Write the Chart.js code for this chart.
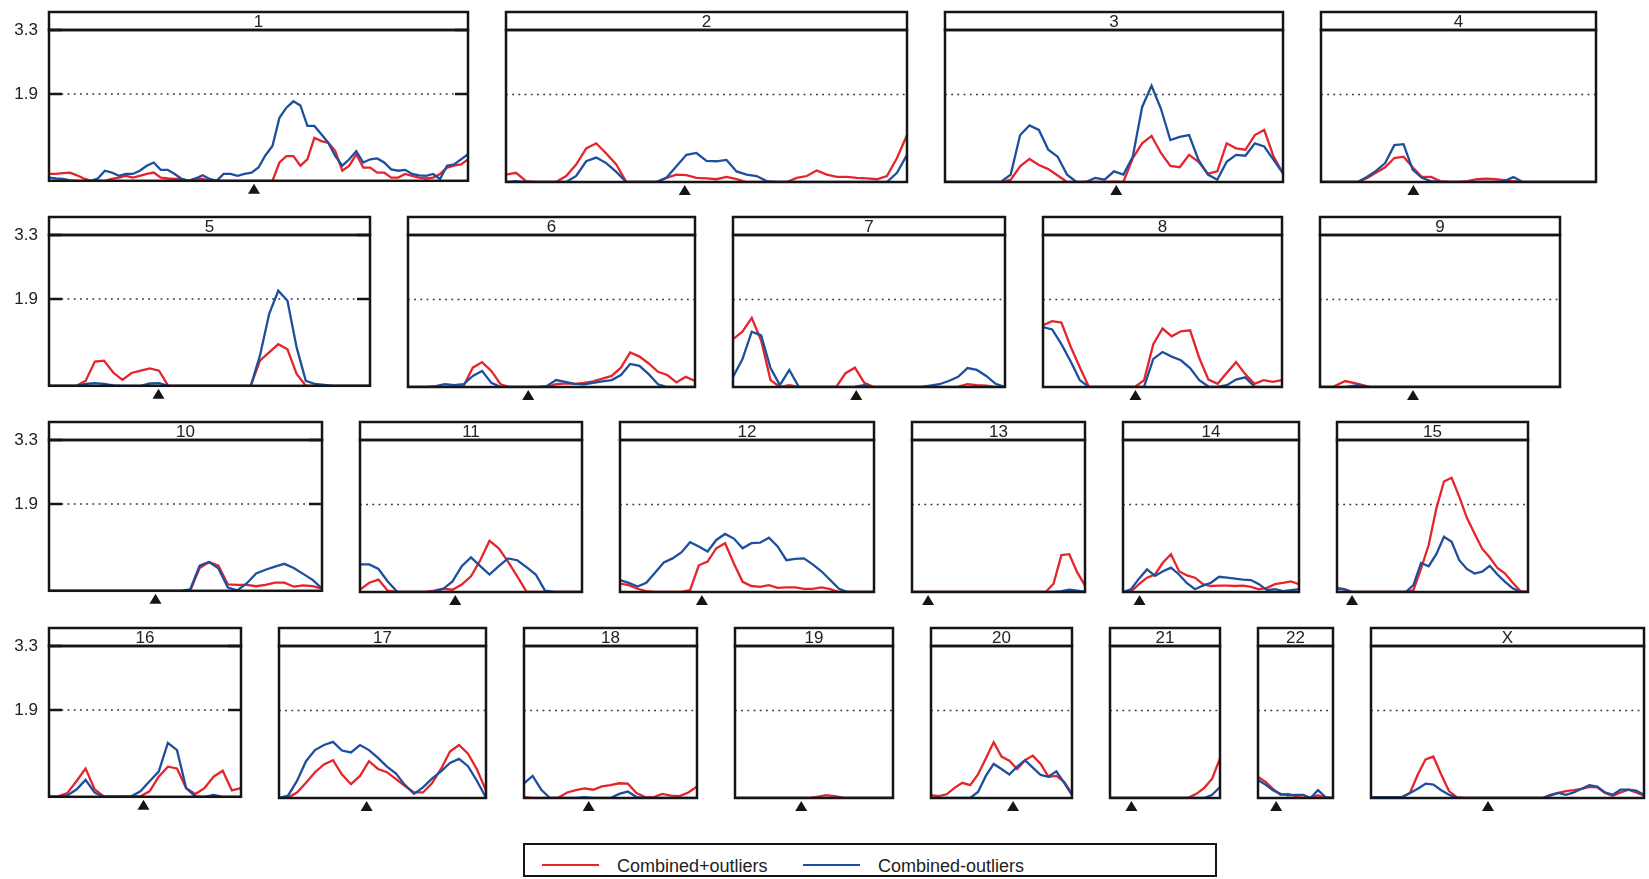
<!DOCTYPE html>
<html>
<head>
<meta charset="utf-8">
<script src="https://cdn.jsdelivr.net/npm/chart.js@4.4.1/dist/chart.umd.min.js"></script>
<style>
  html, body { margin: 0; padding: 0; background: #ffffff; }
  body { width: 1649px; height: 879px; position: relative; overflow: hidden;
         font-family: "Liberation Sans", Arial, sans-serif; }
  canvas { position: absolute; }
  #legend { position: absolute; left: 523px; top: 843px; width: 690px; height: 30px;
            border: 2px solid #151515; }
  #legend .swatch { position: absolute; top: 19px; height: 2px; width: 57px; }
  #legend .label { position: absolute; top: 11px; font-size: 18px; color: #222; line-height: 20px; }
</style>
</head>
<body>
<div id="legend"></div>
<script>
// ---- data -------------------------------------------------------------
const CHROMOSOMES = ['1','2','3','4','5','6','7','8','9','10','11','12',
                     '13','14','15','16','17','18','19','20','21','22','X'];
// chromosome lengths (cM) and centromere positions (cM)
const LENGTH_CM = [279, 267, 225, 183, 214, 191, 181, 159, 160, 182, 148, 169,
                   115, 117, 127, 128, 138, 115, 105, 94, 73, 50, 182];
const CENTROMERE_CM = [136.5, 119, 114, 61.5, 73, 80, 82, 61.5, 62, 71, 63.5, 54.5,
                       10.7, 11, 10, 63, 58.4, 43, 44, 54.7, 14.2, 12.1, 78];
const THRESHOLD = 1.9;
const Y_MAX = 3.3;
const Y_TICKS = [1.9, 3.3];
const SERIES_NAMES = ['Combined+outliers', 'Combined-outliers'];

// LOD profiles, sampled evenly from pter (0 cM) to qter (chromosome length)
const PLUS_OUTLIERS = [
  [0.15,0.15,0.17,0.18,0.12,0.05,0,0,0,0.04,0.07,0.11,0.07,0.11,0.15,0.18,0.07,0.05,0.04,0.04,0,0.05,0.04,
   0,0,0,0,0,0,0,0,0,0,
   0.40,0.54,0.54,0.33,0.47,0.94,0.87,0.83,0.65,0.22,0.33,0.58,0.29,0.29,0.18,0.18,0.07,0.07,0.15,0.11,0.07,0.05,0.07,0.15,0.29,0.33,0.36,0.47],
  [0.16,0.20,0.02,0,0,0,0.13,0.38,0.73,0.84,0.62,0.38,0,0,0,0,0.09,0.16,0.15,0.09,0.08,0.06,0.11,0.06,0,0,0,0,0,0.09,0.13,0.25,0.16,0.11,0.11,0.09,0.08,0.06,0.13,0.52,1.02],
  [0,0,0,0,0,0,0,0.05,0.34,0.50,0.37,0.28,0.14,0,0,0,0,0,0.01,0,0.52,0.84,1.00,0.63,0.35,0.32,0.59,0.44,0.18,0.23,0.84,0.73,0.70,1.02,1.13,0.55,0.19],
  [0,0,0,0,0,0.08,0.20,0.32,0.52,0.55,0.32,0.11,0.11,0.02,0,0,0.02,0.06,0.07,0.06,0.04,0.02,0,0,0,0,0,0,0,0,0],
  [0,0,0,0,0.11,0.53,0.55,0.29,0.13,0.28,0.33,0.38,0.33,0,0,0,0,0,0,0,0,0,0,0.55,0.73,0.91,0.80,0.26,0,0,0,0,0,0,0,0],
  [0,0,0,0,0,0,0.02,0.42,0.54,0.35,0.06,0,0,0,0,0,0.06,0.08,0.07,0.09,0.12,0.18,0.24,0.42,0.75,0.66,0.51,0.33,0.26,0.10,0.22,0.13],
  [1.04,1.20,1.50,1.01,0.15,0,0.04,0,0,0,0,0,0.30,0.42,0.09,0,0,0,0,0,0,0,0,0,0.01,0.06,0.04,0.03,0,0],
  [1.34,1.43,1.40,0.88,0.43,0,0,0,0,0,0,0.15,0.93,1.27,1.10,1.21,1.23,0.63,0.16,0.07,0.31,0.54,0.28,0.07,0.15,0.11,0.15],
  [0,0,0.13,0.07,0,0,0,0,0,0,0,0,0,0,0,0,0,0,0,0],
  [0,0,0,0,0,0,0,0,0,0,0,0,0,0,0,0,0.50,0.63,0.55,0.14,0.13,0.13,0.10,0.13,0.18,0.18,0.09,0.12,0.10,0.05],
  [0.05,0.20,0.27,0.03,0,0,0,0,0.03,0.07,0.05,0.16,0.34,0.69,1.11,0.95,0.66,0.34,0.01,0,0,0,0,0,0],
  [0.18,0.15,0.07,0.02,0,0,0,0,0.04,0.58,0.66,0.95,1.06,0.62,0.22,0.13,0.11,0.15,0.09,0.10,0.10,0.07,0.07,0.10,0.06,0,0,0,0,0],
  [0,0,0,0,0,0,0,0,0,0,0,0,0,0,0,0,0,0,0.18,0.80,0.82,0.43,0.14],
  [0,0.01,0.17,0.31,0.38,0.64,0.82,0.45,0.36,0.31,0.17,0.13,0.14,0.14,0.13,0.14,0.11,0.06,0.09,0.17,0.20,0.23,0.17],
  [0.09,0.06,0,0,0,0,0,0,0,0,0.04,0.51,1.02,1.81,2.40,2.48,2.07,1.61,1.27,0.94,0.75,0.52,0.40,0.20,0.02,0],
  [0.01,0.01,0.08,0.34,0.62,0.16,0.01,0.01,0.01,0.01,0.01,0.12,0.44,0.66,0.62,0.19,0.06,0.19,0.44,0.57,0.14,0.19],
  [0,0.01,0.12,0.33,0.56,0.73,0.82,0.51,0.30,0.48,0.80,0.63,0.56,0.41,0.26,0.12,0.12,0.32,0.63,1.01,1.15,0.96,0.62,0.16],
  [0.02,0,0,0,0.01,0.12,0.17,0.21,0.18,0.25,0.28,0.32,0.31,0.11,0.02,0.02,0.09,0.05,0.04,0.12,0.25],
  [0,0,0,0,0,0,0,0,0,0,0.03,0.06,0.04,0.01,0,0,0,0,0,0],
  [0.06,0.04,0.08,0.22,0.33,0.28,0.51,0.86,1.21,0.90,0.81,0.63,0.82,0.92,0.74,0.46,0.48,0.35,0.09],
  [0,0,0,0,0,0,0,0,0,0,0.01,0.09,0.22,0.42,0.86],
  [0.46,0.35,0.20,0.07,0.09,0.04,0.06,0,0.06,0,0],
  [0.02,0.02,0.02,0.02,0.02,0.11,0.51,0.84,0.90,0.51,0.15,0.02,0,0,0,0,0,0,0,0,0,0,0,0.05,0.11,0.15,0.17,0.20,0.24,0.23,0.11,0.05,0.12,0.18,0.12,0.05]
];
const MINUS_OUTLIERS = [
  [0.07,0.05,0.04,0.01,0,0,0,0.05,0.22,0.18,0.11,0.15,0.15,0.22,0.33,0.40,0.24,0.24,0.15,0.04,0,0.05,0.12,0.04,0,0.15,0.15,0.11,0.15,0.18,0.29,0.56,0.76,1.38,1.60,1.74,1.65,1.20,1.20,1.02,0.83,0.54,0.33,0.47,0.65,0.40,0.47,0.49,0.40,0.25,0.22,0.24,0.15,0.12,0.11,0.15,0.04,0.33,0.36,0.47,0.58],
  [0,0.02,0,0,0,0,0,0.13,0.45,0.53,0.41,0.22,0,0,0,0,0.09,0.34,0.59,0.63,0.46,0.45,0.48,0.23,0.16,0.13,0.02,0,0,0,0,0,0,0,0,0,0,0,0,0.20,0.59],
  [0,0,0,0,0,0,0.01,0.16,1.02,1.23,1.13,0.70,0.55,0.16,0,0,0.09,0.05,0.23,0.16,0.55,1.63,2.09,1.59,0.91,0.98,1.02,0.48,0.16,0.05,0.44,0.59,0.57,0.84,0.77,0.48,0.19],
  [0,0,0,0,0,0.11,0.24,0.41,0.80,0.82,0.27,0.09,0.02,0,0,0,0,0,0,0,0.02,0.11,0,0,0,0,0,0,0,0,0],
  [0,0,0,0,0.04,0.06,0.04,0.01,0,0,0,0.05,0.06,0,0,0,0,0,0,0,0,0,0,0.66,1.57,2.08,1.86,0.84,0.11,0.04,0.02,0,0,0,0,0],
  [0,0,0,0.02,0.06,0.04,0.06,0.24,0.35,0.09,0,0,0,0,0,0.02,0.15,0.11,0.07,0.06,0.09,0.12,0.15,0.26,0.50,0.46,0.28,0.06,0,0,0,0],
  [0.22,0.60,1.20,1.12,0.41,0.04,0.37,0.01,0,0,0,0,0,0.01,0.04,0,0,0,0,0,0,0.03,0.06,0.13,0.22,0.41,0.37,0.24,0.07,0],
  [1.30,1.25,0.93,0.56,0.15,0,0,0,0,0,0,0.01,0.61,0.76,0.66,0.58,0.41,0.15,0.01,0,0.04,0.16,0.21,0.01,0,0,0],
  [0,0,0,0.04,0,0,0,0,0,0,0,0,0,0,0,0,0,0,0,0],
  [0,0,0,0,0,0,0,0,0,0,0,0,0,0,0,0.03,0.55,0.63,0.49,0.07,0.01,0.16,0.38,0.46,0.53,0.59,0.50,0.37,0.24,0.05],
  [0.60,0.60,0.50,0.23,0.01,0,0,0,0.01,0.07,0.23,0.56,0.75,0.56,0.38,0.56,0.73,0.69,0.54,0.38,0.03,0,0,0,0],
  [0.26,0.20,0.12,0.20,0.42,0.64,0.73,0.86,1.08,0.99,0.88,1.13,1.26,1.16,0.95,1.06,1.07,1.18,0.99,0.69,0.72,0.73,0.60,0.45,0.26,0.07,0,0,0,0],
  [0,0,0,0,0,0,0,0,0,0,0,0,0,0,0,0,0,0,0,0.02,0.05,0.03,0.01],
  [0,0.06,0.29,0.49,0.35,0.45,0.53,0.38,0.19,0.06,0.14,0.20,0.33,0.31,0.29,0.27,0.26,0.17,0.04,0.06,0.02,0.04,0.06],
  [0.07,0.05,0,0,0,0,0,0,0,0,0.15,0.63,0.56,0.82,1.20,1.09,0.69,0.50,0.40,0.44,0.57,0.38,0.22,0.08,0,0],
  [0,0,0.03,0.16,0.37,0.09,0,0,0,0.01,0.12,0.34,0.55,1.18,1.02,0.19,0.01,0,0.04,0,0,0],
  [0,0.05,0.37,0.80,1.04,1.15,1.22,1.03,0.99,1.15,1.04,0.87,0.68,0.53,0.28,0.09,0.23,0.42,0.58,0.76,0.85,0.69,0.37,0.01],
  [0.32,0.48,0.18,0,0,0,0,0.02,0,0,0,0.09,0.14,0.02,0,0,0,0,0,0,0],
  [0,0,0,0,0,0,0,0,0,0,0,0,0,0,0,0,0,0,0,0],
  [0,0,0,0,0,0,0.13,0.48,0.74,0.63,0.51,0.68,0.82,0.66,0.50,0.46,0.58,0.33,0.06],
  [0,0,0,0,0,0,0,0,0,0,0,0,0,0.07,0.24],
  [0.39,0.29,0.17,0.09,0.06,0.07,0.07,0,0.17,0.02,0],
  [0.02,0.02,0.02,0.02,0.02,0.11,0.20,0.31,0.29,0.17,0.07,0.01,0,0,0,0,0,0,0,0,0,0,0,0.07,0.11,0.07,0.12,0.20,0.28,0.25,0.12,0.07,0.18,0.18,0.16,0.07]
];

// ---- layout and style ------------------------------------------------
const ROWS = [[0,1,2,3], [4,5,6,7,8], [9,10,11,12,13,14], [15,16,17,18,19,20,21,22]];
const ROW_PLOT_TOP = [29.5, 235, 440, 646];
const PLOT_H = 152;
const TITLE_H = 18;
const PX_PER_CM = 1.5;
const GAP = 38;
const FIRST_LEFT = 49;
const PAD = 6;
const BOTTOM_SPACE = 20;
const RED = '#e5252b';
const BLUE = '#1e4f9f';
const INK = '#151515';
const FONT = '"Liberation Sans", Arial, sans-serif';

// frame, title strip, threshold ticks and centromere marker of one panel
const panelDecor = {
  id: 'panelDecor',
  afterDraw(chart, args, opts) {
    const { ctx, chartArea: a, scales } = chart;
    const w = a.right - a.left;
    ctx.save();
    ctx.strokeStyle = INK;
    ctx.lineWidth = 2.5;
    ctx.strokeRect(a.left, a.top, w, a.bottom - a.top);
    ctx.strokeRect(a.left, a.top - TITLE_H, w, TITLE_H);
    ctx.fillStyle = '#222';
    ctx.font = '17px ' + FONT;
    ctx.textAlign = 'center';
    ctx.textBaseline = 'middle';
    ctx.fillText(opts.title, (a.left + a.right) / 2, a.top - TITLE_H / 2 + 1);
    if (opts.axisTicks) {
      ctx.lineWidth = 2.7;
      ctx.beginPath();
      Y_TICKS.forEach(v => {
        const y = scales.y.getPixelForValue(v);
        ctx.moveTo(a.left, y); ctx.lineTo(a.left + 13, y);
        ctx.moveTo(a.right - 13, y); ctx.lineTo(a.right, y);
      });
      ctx.stroke();
    }
    const cx = scales.x.getPixelForValue(opts.centromere);
    ctx.fillStyle = INK;
    ctx.beginPath();
    ctx.moveTo(cx, a.bottom + 3);
    ctx.lineTo(cx + 6, a.bottom + 13);
    ctx.lineTo(cx - 6, a.bottom + 13);
    ctx.closePath();
    ctx.fill();
    ctx.restore();
  }
};

function profilePoints(values, len) {
  return values.map((v, i) => ({ x: i * len / (values.length - 1), y: v }));
}

function buildPanel(idx, plotLeft, plotTop, first) {
  const len = LENGTH_CM[idx];
  const plotW = Math.round(len * PX_PER_CM);
  const padL = first ? plotLeft : PAD;
  const canvas = document.createElement('canvas');
  const cw = padL + plotW + PAD;
  const ch = PAD + TITLE_H + PLOT_H + BOTTOM_SPACE;
  canvas.width = cw; canvas.height = ch;
  canvas.style.left = (plotLeft - padL) + 'px';
  canvas.style.top = (plotTop - TITLE_H - PAD) + 'px';
  canvas.style.width = cw + 'px'; canvas.style.height = ch + 'px';
  document.body.appendChild(canvas);

  new Chart(canvas, {
    type: 'line',
    data: {
      datasets: [
        { label: SERIES_NAMES[1], data: profilePoints(MINUS_OUTLIERS[idx], len),
          borderColor: BLUE, borderWidth: 2.3, pointRadius: 0, tension: 0, order: 0 },
        { label: SERIES_NAMES[0], data: profilePoints(PLUS_OUTLIERS[idx], len),
          borderColor: RED, borderWidth: 2.3, pointRadius: 0, tension: 0, order: 1 },
        { label: 'threshold', data: [{ x: 0, y: THRESHOLD }, { x: len, y: THRESHOLD }],
          borderColor: '#333333', borderWidth: 1.5, borderDash: [1.8, 4.4], pointRadius: 0, order: 2 }
      ]
    },
    options: {
      responsive: false,
      animation: false,
      devicePixelRatio: 1,
      events: [],
      layout: { padding: { top: PAD + TITLE_H, bottom: BOTTOM_SPACE, left: first ? 0 : PAD, right: PAD } },
      scales: {
        x: { type: 'linear', min: 0, max: len, display: false },
        y: {
          type: 'linear', min: 0, max: Y_MAX, display: first, position: 'left',
          afterBuildTicks: ax => { ax.ticks = Y_TICKS.map(v => ({ value: v })); },
          afterFit: ax => { if (first) ax.width = padL; },
          ticks: { color: '#222', padding: 11, font: { family: FONT, size: 17 },
                   callback: v => v.toFixed(1) },
          grid: { display: false, drawTicks: false },
          border: { display: false }
        }
      },
      plugins: {
        legend: { display: false },
        tooltip: { enabled: false },
        panelDecor: { title: CHROMOSOMES[idx], centromere: CENTROMERE_CM[idx], axisTicks: first }
      }
    },
    plugins: [panelDecor]
  });
  return plotW;
}

ROWS.forEach((row, r) => {
  let left = FIRST_LEFT;
  row.forEach((idx, k) => {
    const w = buildPanel(idx, left, ROW_PLOT_TOP[r], k === 0);
    left += w + GAP;
  });
});

// legend strip
const legend = document.getElementById('legend');
[[SERIES_NAMES[0], RED, 17, 92], [SERIES_NAMES[1], BLUE, 278, 353]].forEach(([name, color, sx, tx]) => {
  const sw = document.createElement('span');
  sw.className = 'swatch'; sw.style.left = sx + 'px'; sw.style.background = color;
  const lb = document.createElement('span');
  lb.className = 'label'; lb.style.left = tx + 'px'; lb.textContent = name;
  legend.appendChild(sw); legend.appendChild(lb);
});
</script>
</body>
</html>
